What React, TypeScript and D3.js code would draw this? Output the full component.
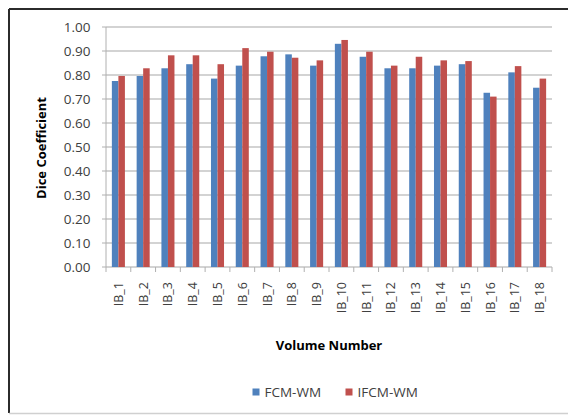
import React from "react";
import * as d3 from "d3";

const categories = ["IB_1","IB_2","IB_3","IB_4","IB_5","IB_6","IB_7","IB_8","IB_9","IB_10","IB_11","IB_12","IB_13","IB_14","IB_15","IB_16","IB_17","IB_18"];
const fcmWM = [0.775,0.796,0.828,0.845,0.785,0.839,0.878,0.886,0.839,0.930,0.876,0.828,0.828,0.839,0.845,0.726,0.811,0.747];
const ifcmWM = [0.796,0.828,0.882,0.882,0.845,0.912,0.897,0.872,0.861,0.946,0.897,0.839,0.876,0.861,0.858,0.710,0.837,0.785];
const seriesNames = ["FCM-WM","IFCM-WM"];
const seriesColors = ["#4F81BD","#C0504D"];
const yTicks = [0,0.1,0.2,0.3,0.4,0.5,0.6,0.7,0.8,0.9,1.0];

const W = 568, H = 415;
const left = 106, right = 552, top = 27, bottom = 267;
const font = "'Open Sans', 'Liberation Sans', sans-serif";

export default function App() {
  const x = d3.scaleBand().domain(categories).range([left, right]).paddingInner(0).paddingOuter(0);
  const y = d3.scaleLinear().domain([0, 1]).range([bottom, top]);
  const bw = x.bandwidth();
  const barW = bw / 3.8;
  const series = [fcmWM, ifcmWM];
  return (
    <svg width={W} height={H} style={{ position: "absolute", left: 0, top: 0, background: "#fff" }}>
      <rect x={0} y={0} width={W} height={H} fill="#fff" />
      {/* frame */}
      <line x1={9} y1={9} x2={W} y2={9} stroke="#2b2b2b" strokeWidth={2} />
      <line x1={9} y1={9} x2={9} y2={413} stroke="#2b2b2b" strokeWidth={2} />
      <line x1={9} y1={413.5} x2={W} y2={413.5} stroke="#d0d0d0" strokeWidth={1.5} />
      {/* gridlines */}
      {yTicks.map((t) => (
        <g key={"g" + t}>
          <line x1={left} x2={right} y1={y(t)} y2={y(t)} stroke="#c4c4c4" strokeWidth={1.3} />
          <line x1={left - 4} x2={left} y1={y(t)} y2={y(t)} stroke="#b0b0b0" strokeWidth={1} />
          <text x={90.5} y={y(t)} dy="0.36em" textAnchor="end" fontFamily={font} fontSize={13.5} fill="#404040">
            {d3.format(".2f")(t)}
          </text>
        </g>
      ))}
      <line x1={left} x2={left} y1={top} y2={bottom} stroke="#b0b0b0" strokeWidth={1} />
      {/* category ticks */}
      {categories.map((c, i) => (
        <line key={"t" + c} x1={left + i * bw} x2={left + i * bw} y1={bottom} y2={bottom + 5} stroke="#b0b0b0" strokeWidth={1} />
      ))}
      <line x1={right} x2={right} y1={bottom} y2={bottom + 5} stroke="#b0b0b0" strokeWidth={1} />
      {/* bars */}
      {series.map((s, si) =>
        s.map((v, i) => (
          <rect
            key={si + "-" + i}
            x={(x(categories[i]) as number) + bw / 2 - barW + si * barW}
            y={y(v)}
            width={barW}
            height={y(0) - y(v)}
            fill={seriesColors[si]}
          />
        ))
      )}
      {/* x labels */}
      {categories.map((c) => {
        const cx = (x(c) as number) + bw / 2;
        const ty = 282;
        return (
          <text key={"l" + c} transform={`translate(${cx},${ty}) rotate(-90)`} dy="0.36em" textAnchor="end" fontFamily={font} fontSize={12.5} fill="#404040">
            {c}
          </text>
        );
      })}
      {/* axis titles */}
      <text transform={`translate(41,${(top + bottom) / 2 + 1}) rotate(-90)`} dy="0.36em" textAnchor="middle" fontFamily={font} fontSize={13} fontWeight="bold" fill="#000">
        Dice Coefficient
      </text>
      <text x={329} y={350} textAnchor="middle" fontFamily={font} fontSize={13} fontWeight="bold" fill="#000">
        Volume Number
      </text>
      {/* legend */}
      {seriesNames.map((n, i) => {
        const lx = i === 0 ? 252.5 : 345.5;
        return (
          <g key={n}>
            <rect x={lx} y={388.5} width={7} height={7} fill={seriesColors[i]} />
            <text x={lx + 12} y={392} dy="0.36em" fontFamily={font} fontSize={13.5} fill="#404040">{n}</text>
          </g>
        );
      })}
    </svg>
  );
}
